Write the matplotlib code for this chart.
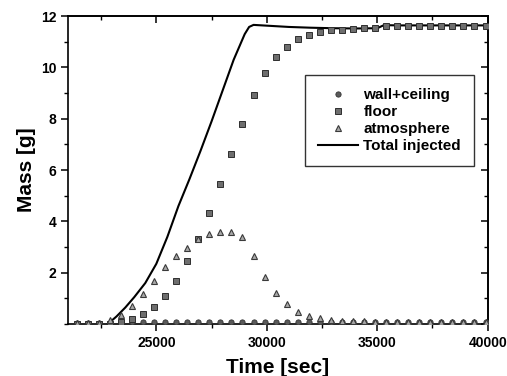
import numpy as np
import matplotlib
matplotlib.use("Agg")
import matplotlib.pyplot as plt
from matplotlib.ticker import MultipleLocator

# sample times [sec]
time = [21400, 21900, 22400, 22900, 23400, 23900, 24400, 24900, 25400, 25900,
        26400, 26900, 27400, 27900, 28400, 28900, 29400, 29900, 30400, 30900,
        31400, 31900, 32400, 32900, 33400, 33900, 34400, 34900, 35400, 35900,
        36400, 36900, 37400, 37900, 38400, 38900, 39400, 39900]

wall_ceiling = [0.03, 0.03, 0.03, 0.04, 0.05, 0.07, 0.08, 0.09, 0.1, 0.1,
                0.1, 0.1, 0.1, 0.1, 0.1, 0.1, 0.1, 0.1, 0.1, 0.1,
                0.1, 0.1, 0.1, 0.1, 0.1, 0.1, 0.1, 0.1, 0.1, 0.1,
                0.1, 0.1, 0.1, 0.1, 0.1, 0.1, 0.1, 0.1]

floor = [0.0, 0.0, 0.0, 0.02, 0.08, 0.2, 0.39, 0.66, 1.09, 1.68,
         2.45, 3.3, 4.32, 5.45, 6.62, 7.8, 8.92, 9.8, 10.4, 10.8,
         11.1, 11.28, 11.38, 11.45, 11.48, 11.5, 11.52, 11.52, 11.62, 11.62,
         11.62, 11.62, 11.62, 11.62, 11.62, 11.62, 11.62, 11.62]

atmosphere = [0.05, 0.05, 0.05, 0.15, 0.35, 0.7, 1.17, 1.68, 2.22, 2.65,
              2.96, 3.3, 3.5, 3.6, 3.58, 3.4, 2.65, 1.83, 1.2, 0.78,
              0.46, 0.3, 0.22, 0.17, 0.14, 0.12, 0.12, 0.1, 0.1, 0.1,
              0.1, 0.09, 0.09, 0.09, 0.08, 0.08, 0.08, 0.08]

# total injected curve
inj_time = [22800, 23200, 23600, 24000, 24500, 25000, 25500, 26000, 26500, 27000,
            27500, 28000, 28500, 29000, 29200, 29400, 30000, 31000, 32000, 33000,
            34000, 35000, 35300, 36000, 38000, 40000]
inj_mass = [0.0, 0.3, 0.65, 1.05, 1.6, 2.35, 3.4, 4.6, 5.65, 6.75,
            7.9, 9.1, 10.3, 11.3, 11.58, 11.66, 11.63, 11.58, 11.55, 11.53,
            11.52, 11.53, 11.65, 11.64, 11.64, 11.64]

plt.rcParams["font.family"] = ["Liberation Sans", "DejaVu Sans"]
plt.rcParams["font.weight"] = "bold"

fig = plt.figure(figsize=(5.07, 3.76), dpi=100)
ax = fig.add_axes([0.134, 0.138, 0.828, 0.819])

ax.plot(time, wall_ceiling, "o", ms=3.8, mfc="#5a5a5a", mec="#333333", mew=0.6,
        label="wall+ceiling", zorder=3)
ax.plot(time, floor, "s", ms=4.2, mfc="#6e6e6e", mec="#2e2e2e", mew=0.7,
        label="floor", zorder=3)
ax.plot(time, atmosphere, "^", ms=5.0, mfc="#a8a8a8", mec="#3a3a3a", mew=0.8,
        label="atmosphere", zorder=3)
ax.plot(inj_time, inj_mass, "-", color="black", lw=1.5, label="Total injected", zorder=2)

ax.set_xlim(21000, 40000)
ax.set_ylim(0, 12)
ax.xaxis.set_major_locator(MultipleLocator(5000))
ax.xaxis.set_minor_locator(MultipleLocator(2500))
ax.set_yticks([2, 4, 6, 8, 10, 12])
ax.yaxis.set_minor_locator(MultipleLocator(1))
ax.tick_params(which="major", direction="out", length=5, width=1.1, labelsize=10)
ax.tick_params(which="minor", direction="out", length=3, width=1.0)
for lab in ax.get_xticklabels() + ax.get_yticklabels():
    lab.set_fontweight("bold")

# mirrored ticks on top and right, pointing inwards
top = ax.secondary_xaxis("top")
top.xaxis.set_major_locator(MultipleLocator(5000))
top.xaxis.set_minor_locator(MultipleLocator(2500))
top.tick_params(which="major", direction="in", length=5, width=1.1, labeltop=False)
top.tick_params(which="minor", direction="in", length=3, width=1.0)
right = ax.secondary_yaxis("right")
right.yaxis.set_major_locator(MultipleLocator(2))
right.yaxis.set_minor_locator(MultipleLocator(1))
right.tick_params(which="major", direction="in", length=5, width=1.1, labelright=False)
right.tick_params(which="minor", direction="in", length=3, width=1.0)

for sp in ax.spines.values():
    sp.set_linewidth(1.2)
for sp in list(top.spines.values()) + list(right.spines.values()):
    sp.set_linewidth(1.2)

ax.set_xlabel("Time [sec]", fontsize=15, fontweight="bold", labelpad=6)
ax.set_ylabel("Mass [g]", fontsize=15, fontweight="bold", labelpad=3)

leg = ax.legend(loc="upper right", bbox_to_anchor=(0.967, 0.808), borderaxespad=0,
                fontsize=11, frameon=True, fancybox=False, edgecolor="black",
                handlelength=2.6, handletextpad=0.35, labelspacing=0.2,
                borderpad=0.85)
leg.get_frame().set_linewidth(1.0)
for txt in leg.get_texts():
    txt.set_fontweight("bold")

fig.savefig("out.png", dpi=100)
